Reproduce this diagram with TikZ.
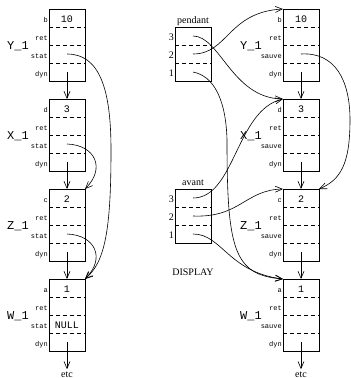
\documentclass[tikz,border=0pt]{standalone}
\usepackage{fontspec}
\setmainfont{Liberation Serif}
\setmonofont{Liberation Mono}
\usetikzlibrary{arrows.meta,calc}

\tikzset{
  frame/.style={draw, minimum width=36pt, minimum height=72pt, inner sep=0pt, outer sep=0pt, line width=0.7pt},
  sbox/.style={draw, minimum width=36pt, minimum height=54pt, inner sep=0pt, outer sep=0pt, line width=0.7pt},
  dashline/.style={dash pattern=on 4pt off 3pt, line width=0.7pt},
  slot/.style={font=\fontsize{7}{7}\selectfont\ttfamily, anchor=base east, inner sep=0.5pt},
  val/.style={font=\fontsize{10}{10}\selectfont\ttfamily, anchor=base, inner sep=0pt},
  fname/.style={font=\fontsize{12}{12}\selectfont\ttfamily, anchor=base, inner sep=0pt},
  word/.style={font=\fontsize{10}{10}\selectfont, inner sep=0pt},
  link/.style={-{Straight Barb[length=7pt,width=6pt]}, line width=0.6pt},
}

% #1 name, #2 centre x, #3 top y, #4 first slot, #5 value, #6 third slot, #7 label x, #8 label
\newcommand\actframe[8]{%
  \node[frame] (#1) at (#2,#3+36) {};
  \foreach \k in {1,2,3}
    \draw[dashline] ($(#1.north west)+(0,18*\k)$) -- ($(#1.north east)+(0,18*\k)$);
  \node[slot] (#1-s1) at ($(#1.north west)+(-0.5,13)$) {#4};
  \node[slot] (#1-s2) at ($(#1.north west)+(-0.5,31)$) {ret};
  \node[slot] (#1-s3) at ($(#1.north west)+(-0.5,49)$) {#6};
  \node[slot] (#1-s4) at ($(#1.north west)+(-0.5,67)$) {dyn};
  \node[val] (#1-v) at ($(#1.north)+(0,13)$) {#5};
  \coordinate (#1-c3) at ($(#1.north)+(0,45)$);
  \coordinate (#1-c4) at ($(#1.north)+(0,63)$);
  \node[fname] (#1-n) at (#7,#3+40) {#8};
}

\begin{document}
\begin{tikzpicture}[x=1pt,y=-1pt]
\useasboundingbox (0,0) rectangle (351,378);

% left column
\actframe{LY}{67}{9}{b}{10}{stat}{18}{Y\_1}
\actframe{LX}{67}{99}{d}{3}{stat}{18}{X\_1}
\actframe{LZ}{67}{189}{c}{2}{stat}{18}{Z\_1}
\actframe{LW}{67}{279}{a}{1}{stat}{18}{W\_1}
\node[val] (LWnull) at ($(LW.north)+(0,49)$) {NULL};
\node[word, anchor=base] (etcL) at (67,377) {etc};

\draw[link] (LY-c4) -- (LX.north);
\draw[link] (LX-c4) -- (LZ.north);
\draw[link] (LZ-c4) -- (LW.north);
\draw[link, shorten >=2pt] (LW-c4) -- (etcL.north);

\draw[link] (LY-c3) .. controls (100,54) and (111,90) .. (111,150)
            .. controls (111,230) and (105,262) .. (LW.north east);
\draw[link] (LX-c3) .. controls (95,145) and (106,168) .. (LZ.north east);
\draw[link] (LZ-c3) .. controls (95,235) and (106,258) .. (LW.north east);

% right column
\actframe{RY}{301}{9}{b}{10}{sauve}{251}{Y\_1}
\actframe{RX}{301}{99}{d}{3}{sauve}{251}{X\_1}
\actframe{RZ}{301}{189}{c}{2}{sauve}{251}{Z\_1}
\actframe{RW}{301}{279}{a}{1}{sauve}{251}{W\_1}
\node[word, anchor=base] (etcR) at (301,377) {etc};

\draw[link] (RY-c4) -- (RX.north);
\draw[link] (RX-c4) -- (RZ.north);
\draw[link] (RZ-c4) -- (RW.north);
\draw[link, shorten >=2pt] (RW-c4) -- (etcR.north);

\draw[link] (RY-c3) .. controls (335,52) and (350,80) .. (350,120)
            .. controls (350,165) and (340,180) .. (RZ.north east);

% pendant
\node[sbox] (pend) at (193,54) {};
\foreach \k in {1,2}
  \draw[dashline] ($(pend.north west)+(0,18*\k)$) -- ($(pend.north east)+(0,18*\k)$);
\node[word, anchor=base] (pendL) at (193,23) {pendant};
\node[word, anchor=base east] (pend3L) at (174,40) {3};
\node[word, anchor=base east] (pend2L) at (174,58) {2};
\node[word, anchor=base east] (pend1L) at (174,76) {1};
\coordinate (pend-3) at (193,36);
\coordinate (pend-2) at (193,54);
\coordinate (pend-1) at (193,72);

% avant
\node[sbox] (av) at (193,216) {};
\foreach \k in {1,2}
  \draw[dashline] ($(av.north west)+(0,18*\k)$) -- ($(av.north east)+(0,18*\k)$);
\node[word, anchor=base] (avL) at (193,185) {avant};
\node[word, anchor=base east] (av3L) at (174,202) {3};
\node[word, anchor=base east] (av2L) at (174,220) {2};
\node[word, anchor=base east] (av1L) at (174,238) {1};
\coordinate (av-3) at (193,198);
\coordinate (av-2) at (193,216);
\coordinate (av-1) at (193,234);

\node[word, anchor=base] (disp) at (193,275) {DISPLAY};

% display links
\draw[link] (pend-3) .. controls (220,36) and (232,98) .. (RX.north west);
\draw[link] (pend-2) .. controls (228,54) and (228,12) .. (RY.north west);
\draw[link] (pend-1) .. controls (214,76) and (226,100) .. (227,140)
            .. controls (227,250) and (234,275) .. (RW.north west);
\draw[link] (av-3) .. controls (235,198) and (236,110) .. (RX.north west);
\draw[link] (av-2) .. controls (240,218) and (245,190) .. (RZ.north west);
\draw[link] (av-1) .. controls (222,234) and (228,272) .. (RW.north west);
\end{tikzpicture}
\end{document}
